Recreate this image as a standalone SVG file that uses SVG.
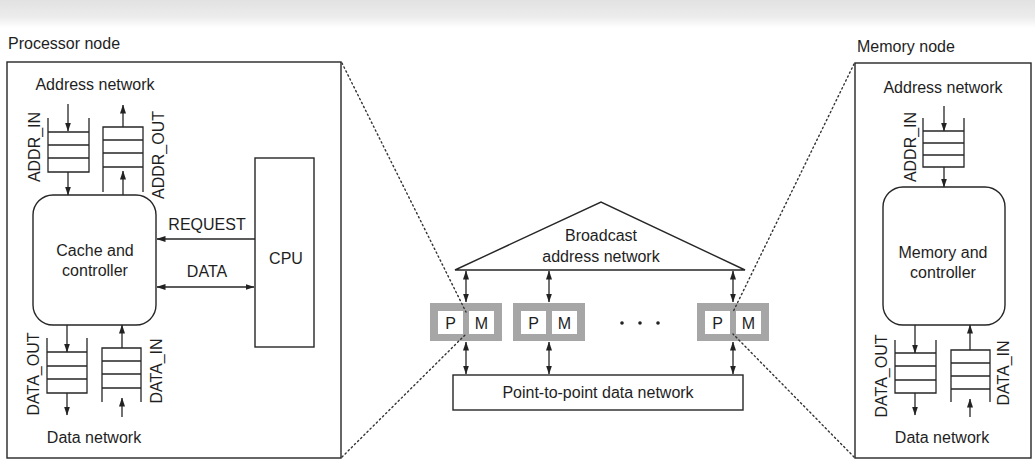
<svg xmlns="http://www.w3.org/2000/svg" width="1035" height="460" viewBox="0 0 1035 460">
<defs>
<marker id="ah" markerUnits="userSpaceOnUse" markerWidth="9" markerHeight="6" refX="8.5" refY="3" orient="auto-start-reverse">
<path d="M0,0 L9,3 L0,6 z" fill="#222"/>
</marker>
<linearGradient id="scan" x1="0" y1="0" x2="0" y2="1">
<stop offset="0" stop-color="#e2e2e2"/>
<stop offset="0.6" stop-color="#ececec"/>
<stop offset="1" stop-color="#ffffff"/>
</linearGradient>
</defs>
<style>
text{font-family:"Liberation Sans",Arial,sans-serif;font-size:16px;fill:#1e1e1e}
.c{text-anchor:middle}
.box{fill:none;stroke:#262626;stroke-width:1.4}
.ln{fill:none;stroke:#262626;stroke-width:1.3}
.ar{fill:none;stroke:#262626;stroke-width:1.3;marker-end:url(#ah)}
.ar2{fill:none;stroke:#262626;stroke-width:1.3;marker-end:url(#ah);marker-start:url(#ah)}
.dot{fill:none;stroke:#333;stroke-width:1.4;stroke-dasharray:1.4 3;stroke-linecap:round}
.pmo{fill:#a6a6a6}
.pmi{fill:#ffffff}
</style>
<rect x="0" y="0" width="1035" height="28" fill="url(#scan)"/>

<g id="processor-node">
<text x="8" y="49">Processor node</text>
<rect class="box" x="7" y="62" width="334" height="396"/>
<text class="c" x="95" y="90">Address network</text>
<text class="c" x="94" y="443">Data network</text>
</g>

<g id="addr-in-queue">
<path class="ln" d="M48,118 V172 H89 V118 M48,132 H89 M48,145 H89 M48,158 H89"/>
<text class="c" transform="translate(40,147) rotate(-90)">ADDR_IN</text>
</g>
<g id="addr-out-queue">
<path class="ln" d="M103,192 V127 H143 V192 M103,140 H143 M103,153 H143 M103,167 H143"/>
<text class="c" transform="translate(164,155) rotate(-90)">ADDR_OUT</text>
</g>
<g id="cache-controller">
<rect class="box" x="33" y="195" width="123" height="130" rx="20"/>
<text class="c" x="95" y="256">Cache and</text>
<text class="c" x="95" y="276">controller</text>
</g>
<g id="cpu">
<rect class="box" x="255" y="158" width="59" height="189"/>
<text class="c" x="286" y="264">CPU</text>
</g>
<g id="data-out-queue">
<path class="ln" d="M47,338 V393 H87 V338 M47,352 H87 M47,366 H87 M47,379 H87"/>
<text class="c" transform="translate(39,374) rotate(-90)">DATA_OUT</text>
</g>
<g id="data-in-queue">
<path class="ln" d="M102,402 V348 H141 V402 M102,361 H141 M102,374 H141 M102,388 H141"/>
<text class="c" transform="translate(162,371) rotate(-90)">DATA_IN</text>
</g>

<g id="memory-node">
<text x="857" y="52">Memory node</text>
<rect class="box" x="855" y="63" width="176" height="395"/>
<text class="c" x="943" y="93">Address network</text>
<text class="c" x="942" y="443">Data network</text>
</g>
<g id="mem-addr-in-queue">
<path class="ln" d="M923,118 V167 H964 V118 M923,131 H964 M923,143 H964 M923,155 H964"/>
<text class="c" transform="translate(916,147) rotate(-90)">ADDR_IN</text>
</g>
<g id="memory-controller">
<rect class="box" x="883" y="187" width="122" height="138" rx="20"/>
<text class="c" x="943" y="258">Memory and</text>
<text class="c" x="943" y="278">controller</text>
</g>
<g id="mem-data-out-queue">
<path class="ln" d="M895,340 V393 H936 V340 M895,353 H936 M895,366 H936 M895,380 H936"/>
<text class="c" transform="translate(887,376) rotate(-90)">DATA_OUT</text>
</g>
<g id="mem-data-in-queue">
<path class="ln" d="M951,402 V350 H990 V402 M951,363 H990 M951,376 H990 M951,389 H990"/>
<text class="c" transform="translate(1009,373) rotate(-90)">DATA_IN</text>
</g>

<g id="broadcast-network">
<path class="box" d="M455,270 L601,202 L745,270 Z"/>
<text class="c" x="601" y="241">Broadcast</text>
<text class="c" x="601" y="262">address network</text>
</g>
<g id="pm1">
<rect class="pmo" x="430" y="303" width="72" height="38"/>
<rect class="pmi" x="438" y="311" width="25" height="23"/>
<rect class="pmi" x="469" y="311" width="25" height="23"/>
<text class="c" x="450.5" y="329">P</text>
<text class="c" x="481.5" y="329">M</text>
</g>
<g id="pm2">
<rect class="pmo" x="513" y="303" width="72" height="38"/>
<rect class="pmi" x="521" y="311" width="25" height="23"/>
<rect class="pmi" x="552" y="311" width="25" height="23"/>
<text class="c" x="533.5" y="329">P</text>
<text class="c" x="564.5" y="329">M</text>
</g>
<g id="ellipsis">
<circle cx="622" cy="323" r="1.8" fill="#222"/>
<circle cx="640" cy="323" r="1.8" fill="#222"/>
<circle cx="658" cy="323" r="1.8" fill="#222"/>
</g>
<g id="pm3">
<rect class="pmo" x="697" y="303" width="72" height="38"/>
<rect class="pmi" x="705" y="311" width="25" height="23"/>
<rect class="pmi" x="736" y="311" width="25" height="23"/>
<text class="c" x="717.5" y="329">P</text>
<text class="c" x="748.5" y="329">M</text>
</g>
<g id="data-network">
<rect class="box" x="453" y="375" width="290" height="35"/>
<text class="c" x="598" y="398">Point-to-point data network</text>
</g>

<g id="connectors">
<line class="ar" x1="68" y1="104" x2="68" y2="131"/>
<line class="ar" x1="68" y1="172" x2="68" y2="195"/>
<line class="ar" x1="123" y1="195" x2="123" y2="171"/>
<line class="ar" x1="123" y1="127" x2="123" y2="105"/>
<line class="ar" x1="255" y1="239" x2="157" y2="239"/>
<line class="ar2" x1="157" y1="287" x2="254" y2="287"/>
<text class="c" x="207" y="230">REQUEST</text>
<text class="c" x="207" y="277">DATA</text>
<line class="ar" x1="67" y1="325" x2="67" y2="352"/>
<line class="ar" x1="67" y1="393" x2="67" y2="415"/>
<line class="ar" x1="122" y1="348" x2="122" y2="325"/>
<line class="ar" x1="122" y1="417" x2="122" y2="398"/>

<line class="ar" x1="944" y1="106" x2="944" y2="131"/>
<line class="ar" x1="944" y1="167" x2="944" y2="187"/>
<line class="ar" x1="915" y1="325" x2="915" y2="353"/>
<line class="ar" x1="915" y1="393" x2="915" y2="415"/>
<line class="ar" x1="970" y1="350" x2="970" y2="325"/>
<line class="ar" x1="970" y1="417" x2="970" y2="399"/>

<line class="ar2" x1="466" y1="271" x2="466" y2="302"/>
<line class="ar2" x1="549" y1="271" x2="549" y2="302"/>
<line class="ar2" x1="733" y1="271" x2="733" y2="302"/>
<line class="ar2" x1="466" y1="342" x2="466" y2="374"/>
<line class="ar2" x1="549" y1="342" x2="549" y2="374"/>
<line class="ar2" x1="733" y1="342" x2="733" y2="374"/>

<line class="dot" x1="342" y1="63" x2="466" y2="312"/>
<line class="dot" x1="342" y1="457" x2="466" y2="334"/>
<line class="dot" x1="854" y1="64" x2="733" y2="312"/>
<line class="dot" x1="854" y1="457" x2="733" y2="334"/>
</g>
</svg>
